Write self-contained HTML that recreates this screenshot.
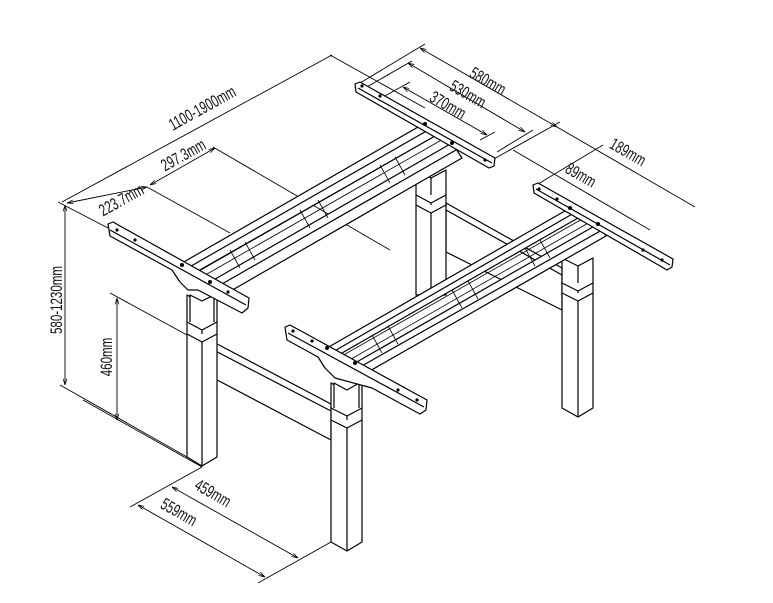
<!DOCTYPE html>
<html><head><meta charset="utf-8"><style>
html,body{margin:0;padding:0;background:#fff;width:773px;height:603px;overflow:hidden}
svg{display:block}
text{font-family:"Liberation Sans",sans-serif;font-size:17px;fill:#111}
</style></head><body>
<svg width="773" height="603" viewBox="0 0 773 603" xmlns="http://www.w3.org/2000/svg">
<defs>
<marker id="a" viewBox="0 0 10 10" refX="10" refY="5" markerWidth="7" markerHeight="7" orient="auto-start-reverse"><path d="M0,2 L10,5 L0,8" fill="none" stroke="#000" stroke-width="1.2"/></marker>
</defs>
<g stroke="#000" stroke-width="0.9" fill="none">
<line x1="62" y1="202" x2="332" y2="55"/>
<line x1="330" y1="55" x2="425" y2="108"/>
<line x1="58" y1="202" x2="108" y2="228"/>
<line x1="67" y1="203" x2="147" y2="187" marker-start="url(#a)" marker-end="url(#a)"/>
<line x1="147" y1="187" x2="230" y2="233"/>
<line x1="150" y1="185" x2="215" y2="148" marker-start="url(#a)" marker-end="url(#a)"/>
<line x1="213" y1="147" x2="390" y2="250"/>
<line x1="65" y1="205" x2="65" y2="385" marker-start="url(#a)" marker-end="url(#a)"/>
<line x1="60" y1="385" x2="187" y2="457"/>
<line x1="117" y1="298" x2="117" y2="420" marker-start="url(#a)" marker-end="url(#a)"/>
<line x1="110" y1="293" x2="187" y2="335"/>
<line x1="83" y1="400" x2="202" y2="467"/>
<line x1="202" y1="467" x2="130" y2="507"/>
<line x1="331" y1="542" x2="258" y2="583"/>
<line x1="172" y1="487" x2="298" y2="558" marker-start="url(#a)" marker-end="url(#a)"/>
<line x1="138" y1="505" x2="265" y2="577" marker-start="url(#a)" marker-end="url(#a)"/>
<line x1="425" y1="44" x2="360" y2="83"/>
<line x1="420" y1="48" x2="557" y2="127" marker-start="url(#a)" marker-end="url(#a)"/>
<line x1="560" y1="122" x2="492" y2="160"/>
<line x1="412" y1="61" x2="365" y2="88"/>
<line x1="408" y1="63" x2="525" y2="132" marker-start="url(#a)" marker-end="url(#a)"/>
<line x1="533" y1="130" x2="497" y2="152"/>
<line x1="410" y1="82" x2="383" y2="97"/>
<line x1="403" y1="87" x2="487" y2="135" marker-start="url(#a)" marker-end="url(#a)"/>
<line x1="495" y1="132" x2="480" y2="140"/>
<line x1="557" y1="127" x2="695" y2="207"/>
<line x1="513" y1="150" x2="650" y2="230"/>
<line x1="533" y1="187" x2="603" y2="145"/>
</g>
<g>
<text transform="translate(205,113) rotate(-29) scale(0.68,1)" text-anchor="middle">1100-1900mm</text>
<text transform="translate(186,160) rotate(-29) scale(0.68,1)" text-anchor="middle">297.3mm</text>
<text transform="translate(124,205) rotate(-29) scale(0.68,1)" text-anchor="middle">223.7mm</text>
<text transform="translate(62,300) rotate(-90) scale(0.68,1)" text-anchor="middle">580-1230mm</text>
<text transform="translate(112,357) rotate(-90) scale(0.68,1)" text-anchor="middle">460mm</text>
<text transform="translate(485,86) rotate(30) scale(0.68,1)" text-anchor="middle">580mm</text>
<text transform="translate(465,99) rotate(30) scale(0.68,1)" text-anchor="middle">530mm</text>
<text transform="translate(445,110) rotate(30) scale(0.68,1)" text-anchor="middle">370mm</text>
<text transform="translate(625,157) rotate(30) scale(0.68,1)" text-anchor="middle">189mm</text>
<text transform="translate(578,180) rotate(30) scale(0.68,1)" text-anchor="middle">89mm</text>
<text transform="translate(210,498) rotate(30) scale(0.68,1)" text-anchor="middle">459mm</text>
<text transform="translate(176,517) rotate(30) scale(0.68,1)" text-anchor="middle">559mm</text>
</g>
<g stroke="#000" stroke-width="1.2" fill="#fff" stroke-linejoin="round">
<polygon points="446,203 562,268 562,310 446,252"/>
<line x1="446" y1="210" x2="562" y2="275"/>
<polygon points="416,170 431,178 446,170 446,295 416,295"/>
<line x1="431" y1="178" x2="431" y2="295"/>
<polyline points="416,195 431,203 446,195"/><polyline points="416,205 431,213 446,205"/>
<polygon points="562,258 578,266 593,258 593,408 578,417 562,408"/>
<line x1="578" y1="266" x2="578" y2="417"/>
<polyline points="562,283 578,291 593,283"/><polyline points="562,293 578,301 593,293"/>
<polygon points="202,336 331,404 331,440 202,372"/>
<line x1="202" y1="344" x2="331" y2="411"/>
<polygon points="187,295 202,303 217,295 217,457 202,466 187,457"/>
<line x1="202" y1="303" x2="202" y2="466"/>
<polygon points="190,295 202,301 214,295 214,322 202,328 190,322"/>
<polyline points="187,322 202,330 217,322"/><polyline points="187,334 202,342 217,334"/>
<polygon points="331,383 347,392 362,383 362,542 347,551 331,542"/>
<line x1="347" y1="392" x2="347" y2="551"/>
<polygon points="334,383 347,390 359,383 359,408 347,414 334,408"/>
<polyline points="331,408 347,416 362,408"/><polyline points="331,420 347,428 362,420"/>
<!-- left frame beams -->
<polygon points="182,263 425,123 435,136 190,276"/>
<line x1="186" y1="269" x2="430" y2="129"/>
<polygon points="210,282 452,143 462,158 222,296"/>
<line x1="215" y1="288" x2="456" y2="150"/>
<line x1="196" y1="272" x2="440" y2="133" stroke-width="0.8"/>
<line x1="200" y1="278" x2="445" y2="138" stroke-width="0.8"/>
<line x1="230" y1="250" x2="240" y2="268" stroke-width="0.8"/>
<line x1="245" y1="242" x2="255" y2="260" stroke-width="0.8"/>
<line x1="300" y1="210" x2="310" y2="228" stroke-width="0.8"/>
<line x1="318" y1="200" x2="328" y2="218" stroke-width="0.8"/>
<line x1="380" y1="165" x2="390" y2="183" stroke-width="0.8"/>
<line x1="395" y1="157" x2="405" y2="175" stroke-width="0.8"/>
<path d="M355,84 L360,82 L495,158 L494,166 L489,168 L356,92 Z"/>
<line x1="358" y1="88" x2="492" y2="163"/>
<path d="M108,224 L113,222 L249,298 L248,308 L242,313 L198,290 L188,290 L180,282 L172,270 L110,236 Z"/>
<line x1="110" y1="230" x2="246" y2="305"/>
<!-- right frame beams -->
<polygon points="327,348 570,208 578,218 335,357"/>
<line x1="331" y1="353" x2="574" y2="213"/>
<polygon points="355,363 598,224 606,236 368,372"/>
<line x1="360" y1="367" x2="602" y2="230"/>
<line x1="340" y1="357" x2="584" y2="218" stroke-width="0.8"/>
<line x1="346" y1="362" x2="590" y2="222" stroke-width="0.8"/>
<line x1="372" y1="335" x2="382" y2="353" stroke-width="0.8"/>
<line x1="388" y1="326" x2="398" y2="344" stroke-width="0.8"/>
<line x1="452" y1="290" x2="462" y2="308" stroke-width="0.8"/>
<line x1="468" y1="281" x2="478" y2="299" stroke-width="0.8"/>
<line x1="525" y1="248" x2="535" y2="266" stroke-width="0.8"/>
<line x1="540" y1="240" x2="550" y2="258" stroke-width="0.8"/>
<path d="M533,185 L538,183 L673,259 L672,267 L667,270 L534,193 Z"/>
<line x1="536" y1="189" x2="670" y2="265"/>
<path d="M285,327 L290,325 L427,400 L426,410 L420,414 L372,388 L335,378 L325,368 L318,357 L287,340 Z"/>
<line x1="288" y1="333" x2="424" y2="407"/>
</g>
<g fill="#000">
<circle cx="117" cy="230" r="1.6"/><circle cx="135" cy="240" r="1.6"/><circle cx="182" cy="265" r="2"/><circle cx="210" cy="282" r="2"/><circle cx="228" cy="292" r="1.6"/>
<circle cx="362" cy="86" r="1.6"/><circle cx="380" cy="96" r="1.6"/><circle cx="425" cy="124" r="2"/><circle cx="452" cy="143" r="2"/><circle cx="485" cy="160" r="1.6"/>
<circle cx="293" cy="331" r="1.6"/><circle cx="312" cy="341" r="1.6"/><circle cx="327" cy="348" r="2"/><circle cx="355" cy="363" r="2"/><circle cx="398" cy="390" r="1.6"/><circle cx="417" cy="400" r="1.6"/>
<circle cx="539" cy="189" r="1.6"/><circle cx="557" cy="199" r="1.6"/><circle cx="570" cy="208" r="2"/><circle cx="598" cy="224" r="2"/><circle cx="643" cy="250" r="1.6"/><circle cx="662" cy="260" r="1.6"/>
</g>
</svg>
</body></html>
